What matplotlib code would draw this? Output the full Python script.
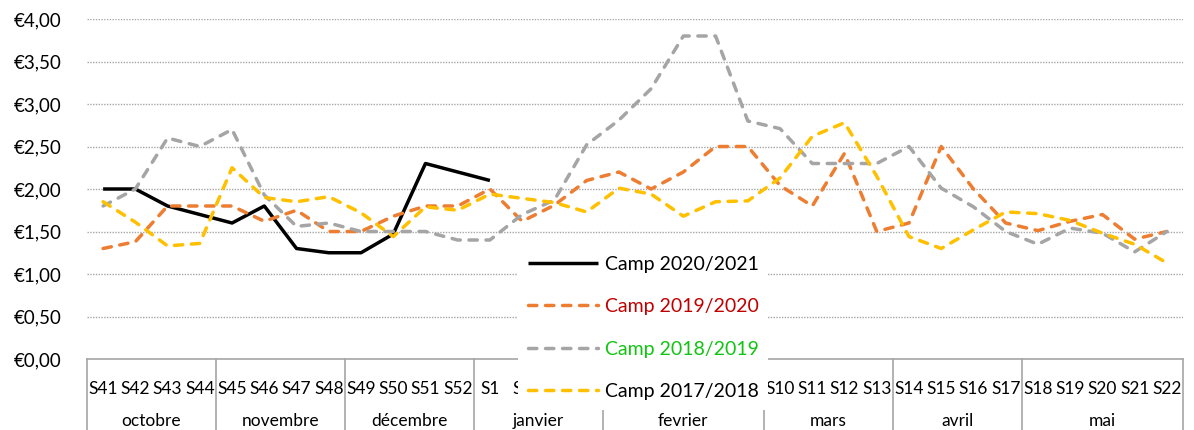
import matplotlib
matplotlib.use("Agg")
import matplotlib.pyplot as plt
import matplotlib.transforms as mtransforms
from matplotlib.lines import Line2D
import numpy as np

plt.rcParams['font.family'] = ['Lato', 'DejaVu Sans']

weeks = ['S41', 'S42', 'S43', 'S44', 'S45', 'S46', 'S47', 'S48', 'S49', 'S50', 'S51', 'S52',
         'S1', 'S2', 'S3', 'S4', 'S5', 'S6', 'S7', 'S8', 'S9', 'S10', 'S11', 'S12', 'S13',
         'S14', 'S15', 'S16', 'S17', 'S18', 'S19', 'S20', 'S21', 'S22']
months = ['octobre', 'novembre', 'décembre', 'janvier', 'fevrier', 'mars', 'avril', 'mai']
month_weeks = [4, 4, 4, 4, 5, 4, 4, 5]

camp_2020_2021 = [2.00, 2.00, 1.80, 1.70, 1.60, 1.80, 1.30, 1.25, 1.25, 1.47, 2.30, 2.20, 2.10]
camp_2019_2020 = [1.30, 1.38, 1.80, 1.80, 1.80, 1.62, 1.75, 1.50, 1.50, 1.68, 1.80, 1.80,
                  2.00, 1.62, 1.81, 2.10, 2.20, 2.00, 2.20, 2.50, 2.50, 2.04, 1.80, 2.42,
                  1.50, 1.60, 2.50, 2.00, 1.60, 1.51, 1.62, 1.70, 1.41, 1.50]
camp_2018_2019 = [1.80, 2.00, 2.60, 2.50, 2.70, 1.93, 1.56, 1.60, 1.50, 1.50, 1.50, 1.40,
                  1.40, 1.70, 1.87, 2.52, 2.81, 3.18, 3.80, 3.80, 2.80, 2.71, 2.30, 2.30,
                  2.30, 2.50, 2.01, 1.79, 1.50, 1.35, 1.54, 1.48, 1.26, 1.50]
camp_2017_2018 = [1.85, 1.61, 1.33, 1.36, 2.25, 1.90, 1.85, 1.91, 1.72, 1.44, 1.79, 1.75,
                  1.94, 1.89, 1.84, 1.73, 2.01, 1.94, 1.68, 1.85, 1.86, 2.13, 2.62, 2.78,
                  2.15, 1.44, 1.30, 1.52, 1.73, 1.71, 1.63, 1.48, 1.35, 1.13]

series_labels = ['Camp 2020/2021', 'Camp 2019/2020', 'Camp 2018/2019', 'Camp 2017/2018']
series_colors = ['#000000', '#ED7D31', '#A5A5A5', '#FFC000']
label_colors = ['#000000', '#C00000', '#12C412', '#000000']

W, H = 1194, 430
fig = plt.figure(figsize=(W / 100, H / 100), dpi=100)
ax = fig.add_axes([87 / W, 1 - 359 / H, (1183 - 87) / W, (359 - 19) / H])

x = np.arange(len(weeks))
lw = 2.5
handles = []
all_series = [camp_2020_2021, camp_2019_2020, camp_2018_2019, camp_2017_2018]
for i, (vals, col, lab) in enumerate(zip(all_series, series_colors, series_labels)):
    xs = x[:len(vals)]
    if i == 0:
        ln, = ax.plot(xs, vals, color=col, lw=lw, solid_joinstyle='round',
                      solid_capstyle='butt', label=lab, zorder=3 + i)
    else:
        ln, = ax.plot(xs, vals, color=col, lw=lw, dashes=(2.4, 2.5),
                      dash_capstyle='round', dash_joinstyle='round', label=lab, zorder=3 + i)
    handles.append(ln)

ax.set_xlim(-0.5, len(weeks) - 0.5)
ax.set_ylim(0, 4)
yt = np.arange(0, 4.01, 0.5)
ax.set_yticks(yt)
ax.set_yticklabels(['€' + f'{v:.2f}'.replace('.', ',') for v in yt], fontsize=13.5)
for v in yt[1:]:
    ax.axhline(v, color='#A6A6A6', lw=1.0, ls=(0, (1, 1)), zorder=1)

for s in ['top', 'right', 'left']:
    ax.spines[s].set_visible(False)
ax.spines['bottom'].set_color('#A6A6A6')
ax.spines['bottom'].set_linewidth(1.2)
ax.tick_params(axis='y', length=0, pad=18, labelcolor='#000000')
ax.set_xticks(x)
ax.set_xticklabels(weeks, fontsize=12.5)
ax.tick_params(axis='x', length=0, pad=16)

# month separators and labels
trans = mtransforms.blended_transform_factory(ax.transData, ax.transAxes)
bottom = (359 - 430) / 340 - 0.01
bounds = np.concatenate([[0], np.cumsum(month_weeks)]) - 0.5
for b in bounds:
    ax.add_line(Line2D([b, b], [0, bottom], transform=trans, color='#A6A6A6',
                       lw=1.2, clip_on=False))
month_y = (359 - 421) / 340
for m, a, b in zip(months, bounds[:-1], bounds[1:]):
    ax.text((a + b) / 2, month_y, m, transform=trans, ha='center', va='center', fontsize=12.5)

leg = fig.legend(handles=handles, loc='upper left', bbox_to_anchor=(518 / W, 1 - 246 / H),
                 borderaxespad=0, frameon=True, fancybox=False, fontsize=14,
                 handlelength=3.6, handletextpad=0.35, labelspacing=1.31, borderpad=0.5)
leg.get_frame().set_facecolor('white')
leg.get_frame().set_edgecolor('none')
leg.get_frame().set_alpha(1.0)
for t, c in zip(leg.get_texts(), label_colors):
    t.set_color(c)

# week labels that lie entirely under the (opaque) legend box are not visible
fig.canvas.draw()
renderer = fig.canvas.get_renderer()
lbox = leg.get_window_extent(renderer)
for tl in ax.get_xticklabels():
    bb = tl.get_window_extent(renderer)
    if bb.x0 >= lbox.x0 and bb.x1 <= lbox.x1 and bb.y0 >= lbox.y0 and bb.y1 <= lbox.y1:
        tl.set_visible(False)

fig.savefig('out.png', dpi=100)
